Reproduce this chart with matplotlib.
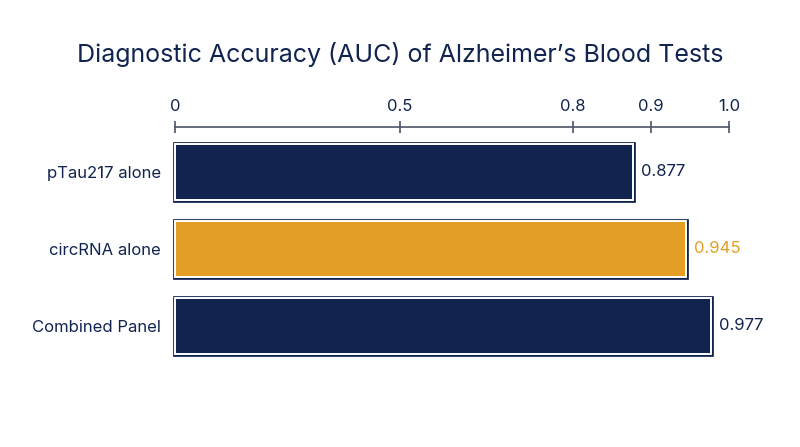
import numpy as np
import matplotlib.pyplot as plt
import matplotlib.patheffects as pe

plt.rcParams['font.family'] = ['Inter', 'DejaVu Sans']

# data
tests = ['pTau217 alone', 'circRNA alone', 'Combined Panel']
auc = [0.877, 0.945, 0.977]
tick_vals = [0, 0.5, 0.8, 0.9, 1.0]
tick_labels = ['0', '0.5', '0.8', '0.9', '1.0']

NAVY = '#11244f'
GOLD = '#e39f25'
AXIS = '#4b5568'
bar_colors = [NAVY, GOLD, NAVY]
label_colors = [NAVY, GOLD, NAVY]

# stretched axis, as in the original: piecewise linear through the ticks
knot_pos = [0, 0.406, 0.718, 0.859, 1.0]


def fwd(v):
    return np.interp(v, tick_vals, knot_pos)


def inv(p):
    return np.interp(p, knot_pos, tick_vals)


fig = plt.figure(figsize=(8, 4.47), dpi=100)
ax = fig.add_axes([0.21875, 0.168, 0.6925, 0.548])
ax.set_xscale('function', functions=(fwd, inv))
ax.set_xlim(0, 1.0)
ax.set_ylim(2.6, -0.584)

y = np.arange(len(tests))
bars = ax.barh(y, auc, height=0.73, color=bar_colors,
               edgecolor='white', linewidth=1.4)
for b in bars:
    b.set_clip_on(False)
    b.set_path_effects([pe.Stroke(linewidth=3.4, foreground=NAVY), pe.Normal()])

for yi, v, c in zip(y, auc, label_colors):
    ax.annotate('{:.3f}'.format(v), (v, yi), xytext=(6, 0),
                textcoords='offset points', va='center', ha='left',
                fontsize=12, color=c)

ax.set_yticks(y)
ax.set_yticklabels(tests, fontsize=12, color=NAVY)
ax.tick_params(axis='y', length=0, pad=10)

ax.xaxis.tick_top()
ax.set_xticks(tick_vals)
ax.set_xticklabels(tick_labels, fontsize=12, color=NAVY)
ax.xaxis.set_minor_locator(plt.NullLocator())
ax.tick_params(axis='x', direction='inout', length=8, width=1.2,
               color=AXIS, pad=5)

for s in ['bottom', 'left', 'right']:
    ax.spines[s].set_visible(False)
ax.spines['top'].set_color(AXIS)
ax.spines['top'].set_linewidth(1.2)

fig.text(0.5, 0.878, 'Diagnostic Accuracy (AUC) of Alzheimer\u2019s Blood Tests',
         ha='center', va='center', fontsize=18, color=NAVY)

fig.savefig('out.png', dpi=100)
